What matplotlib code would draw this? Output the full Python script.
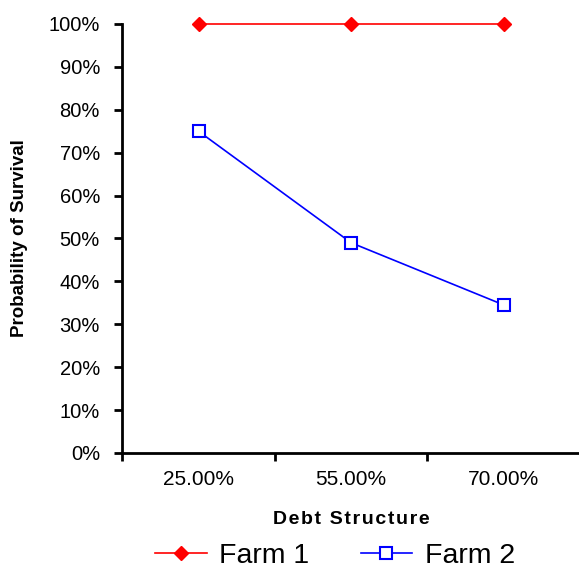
import matplotlib
matplotlib.use("Agg")
import matplotlib.pyplot as plt

plt.rcParams['font.family'] = ['Liberation Sans', 'DejaVu Sans']

categories = ["25.00%", "55.00%", "70.00%"]
farm1 = [100, 100, 100]
farm2 = [75, 49, 34.5]
y_ticks = [0, 10, 20, 30, 40, 50, 60, 70, 80, 90, 100]

fig = plt.figure(figsize=(5.79, 5.71), dpi=100)
ax = fig.add_axes([0.211, 0.2067, 0.791, 0.7513])

x = list(range(len(categories)))
ax.plot(x, farm1, color='#ff0000', lw=1.2, marker='D', ms=7.2,
        mec='#ff0000', mfc='#ff0000', label='Farm 1', clip_on=False, zorder=3)
ax.plot(x, farm2, color='#0000ff', lw=1.2, marker='s', ms=8.5, mew=1.5,
        mec='#0000ff', mfc='white', label='Farm 2', clip_on=False, zorder=3)

ax.set_xlim(-0.5, 2.5)
ax.set_ylim(0, 100)
ax.set_yticks(y_ticks)
ax.set_yticklabels([f"{v}%" for v in y_ticks], fontsize=14.5)
ax.set_xticks([-0.5, 0.5, 1.5, 2.5])
ax.set_xticklabels([])
ax.set_xticks(x, minor=True)
ax.set_xticklabels(categories, minor=True, fontsize=15)
ax.tick_params(axis='x', which='minor', length=0, pad=12)
ax.tick_params(axis='both', which='major', direction='out', length=6, width=2)
ax.tick_params(axis='y', pad=10)

for side in ['top', 'right']:
    ax.spines[side].set_visible(False)
for side in ['left', 'bottom']:
    ax.spines[side].set_linewidth(2)

# letter-spaced axis title
xlabel = "\u200a".join("Debt") + "\u200a \u200a" + "\u200a".join("Structure")
ax.set_xlabel(xlabel, fontsize=14, fontweight='bold', labelpad=16)
ax.set_ylabel("Probability of Survival", fontsize=13.5, fontweight='bold', labelpad=15)

fig.legend(loc='center', bbox_to_anchor=(0.579, 0.027), ncol=2, frameon=False,
           fontsize=20.5, handlelength=1.8, columnspacing=1.8, handletextpad=0.45,
           borderpad=0.2)

fig.savefig("out.png", dpi=100)
